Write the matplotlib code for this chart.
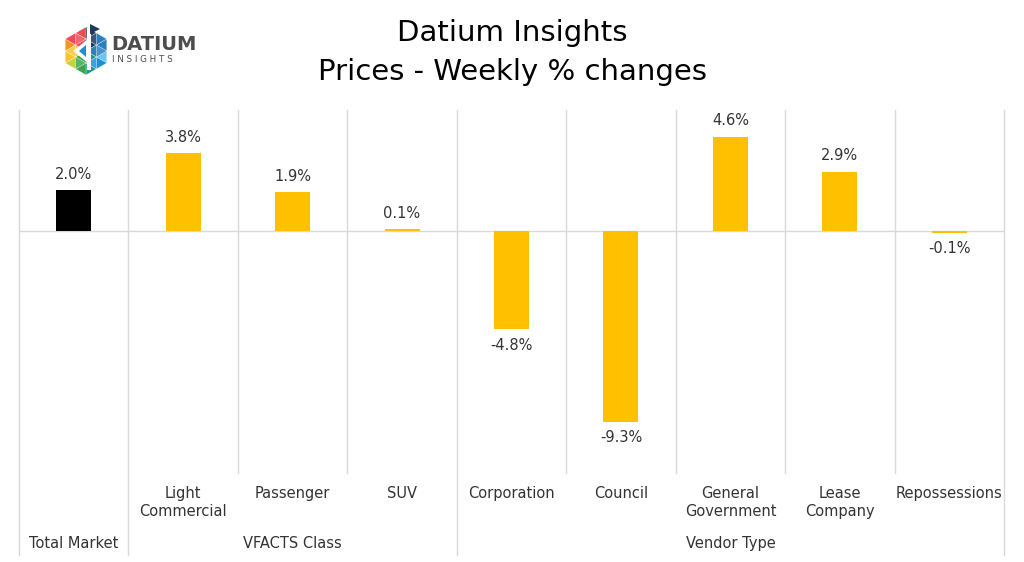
import matplotlib.pyplot as plt
import matplotlib.transforms as mtransforms
from matplotlib.patches import Polygon
import numpy as np

plt.rcParams['font.family'] = ['DejaVu Sans']

# -----------------------------
# Data
categories = ["Total Market", "Light\nCommercial", "Passenger", "SUV", "Corporation",
              "Council", "General\nGovernment", "Lease\nCompany", "Repossessions"]
changes = [2.0, 3.8, 1.9, 0.1, -4.8, -9.3, 4.6, 2.9, -0.1]
groups = ["Total Market", "VFACTS Class", "Vendor Type"]
group_spans = [(0, 0), (1, 3), (4, 8)]  # first and last category index of each group

bar_colors = ["#000000"] + ["#FFC000"] * (len(changes) - 1)
grid_col = "#D9D9D9"
text_col = "#333333"

# -----------------------------
fig = plt.figure(figsize=(10.24, 5.62), dpi=100)
W, H = 1024, 562
ax = fig.add_axes([19 / W, 1 - 473 / H, 985 / W, 363 / H])

x = np.arange(len(categories))
ax.bar(x, changes, width=0.32, color=bar_colors, zorder=3)
ax.set_xlim(-0.5, len(categories) - 0.5)
ax.set_ylim(-11.8, 5.9)
ax.axhline(0, color=grid_col, lw=1.0, zorder=2)

for s in ax.spines.values():
    s.set_visible(False)
ax.set_xticks([])
ax.set_yticks([])

# data labels
for xi, v in zip(x, changes):
    off = 6 if v >= 0 else -6
    ax.annotate(f"{v:.1f}%", (xi, v), xytext=(0, off), textcoords="offset points",
                ha="center", va="bottom" if v >= 0 else "top", fontsize=10.5, color=text_col)

# separators: inner ones stop at the axis, group borders run down through the group row
trans = mtransforms.blended_transform_factory(ax.transData, ax.transAxes)
group_edges = {-0.5, len(categories) - 0.5}
for a, b in group_spans:
    group_edges.add(a - 0.5)
    group_edges.add(b + 0.5)
for i in range(len(categories) + 1):
    xe = i - 0.5
    y0 = -0.226 if xe in group_edges else 0.0
    ax.plot([xe, xe], [y0, 1.0], color=grid_col, lw=1.0, transform=trans, clip_on=False, zorder=1)

# category labels
for xi, name in zip(x, categories):
    if xi == 0:
        continue
    ax.text(xi, -0.035, name, transform=trans, ha="center", va="top", fontsize=10.5,
            color=text_col, linespacing=1.3)

# group labels
for name, (a, b) in zip(groups, group_spans):
    ax.text((a + b) / 2, -0.193, name, transform=trans, ha="center", va="center",
            fontsize=10.5, color=text_col)

# -----------------------------
# Title
fig.text(0.5, 1 - 33 / H, "Datium Insights", ha="center", va="center", fontsize=21, color="#000000")
fig.text(0.5, 1 - 72 / H, "Prices - Weekly % changes", ha="center", va="center", fontsize=21, color="#000000")

# -----------------------------
# Logo: triangulated hexagon with a white "d"
lax = fig.add_axes([0, 1 - 100 / H, 220 / W, 100 / H])
lax.set_xlim(0, 220)
lax.set_ylim(100, 0)
lax.axis("off")
cx, cy, r = 86, 51, 24
ang = np.deg2rad(np.arange(-90, 270, 60))
verts = [np.array([cx + r * np.cos(a), cy + r * np.sin(a)]) for a in ang]
centre = np.array([cx, cy])
sector_cols = [(45, "#2B7FBF"), (90, "#1D3A5F"), (150, "#EF4B57"), (180, "#F7941D"),
               (210, "#FBC42E"), (240, "#C6D43A"), (270, "#38A850"), (300, "#1B9A8A"),
               (330, "#1E8FD5"), (360, "#6CC5EC")]


def tri_colour(pts):
    c = np.mean(pts, axis=0)
    a = np.degrees(np.arctan2(-(c[1] - cy), c[0] - cx)) % 360
    for lim, col in sector_cols:
        if a < lim:
            return col
    return sector_cols[-1][1]


for k in range(6):
    p0, p1, p2 = centre, verts[k], verts[(k + 1) % 6]
    m01, m12, m02 = (p0 + p1) / 2, (p1 + p2) / 2, (p0 + p2) / 2
    for j, t in enumerate([(p0, m01, m02), (m01, p1, m12), (m02, m12, p2), (m01, m12, m02)]):
        lax.add_patch(Polygon(t, color=tri_colour(t), lw=0.2, ec="white",
                              alpha=0.85 if j == 3 else 1.0))
lax.add_patch(Polygon([(87, 28), (91, 28), (91, 70), (87, 70)], color="white", lw=0))
lax.add_patch(Polygon([(73, 51), (88, 39), (88, 63)], color="white", lw=0))
lax.add_patch(Polygon([(79, 51), (86, 45), (86, 57)], color="#1E8FD5", lw=0))
lax.add_patch(Polygon([(90, 24), (100, 29), (90, 34)], color="#1D3A5F", lw=0))
lax.text(111, 45, "DATIUM", fontsize=14, fontweight="bold", color="#4D4D4F", va="center", ha="left")
lax.text(112, 60, "I N S I G H T S", fontsize=6.3, color="#4D4D4F", va="center", ha="left")

plt.savefig("out.png", dpi=100)
